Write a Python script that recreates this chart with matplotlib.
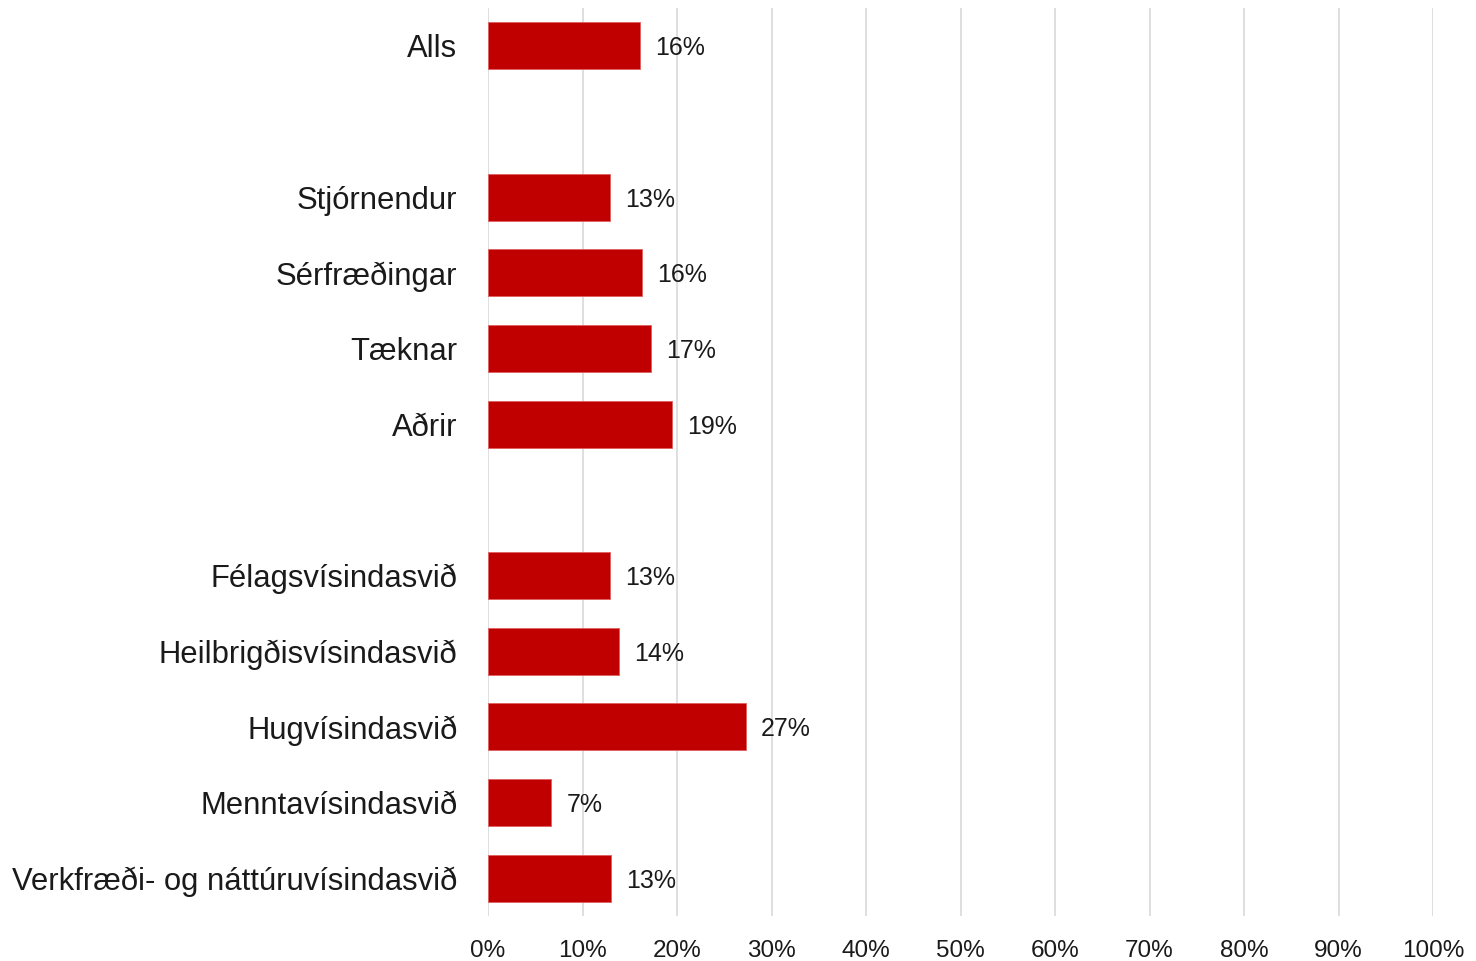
import matplotlib
matplotlib.use("Agg")
import matplotlib.pyplot as plt
from matplotlib import font_manager

names = {f.name for f in font_manager.fontManager.ttflist}
fam = ['Liberation Sans Narrow', 'Liberation Sans', 'DejaVu Sans']
fam = [f for f in fam if f in names] + ['DejaVu Sans']
plt.rcParams['font.family'] = fam

categories = ["Alls", "", "Stjórnendur", "Sérfræðingar", "Tæknar", "Aðrir", "",
              "Félagsvísindasvið", "Heilbrigðisvísindasvið", "Hugvísindasvið",
              "Menntavísindasvið", "Verkfræði- og náttúruvísindasvið"]
values = [16.1, None, 12.9, 16.3, 17.2, 19.5, None, 12.9, 13.9, 27.3, 6.7, 13.0]
labels = ["16%", "", "13%", "16%", "17%", "19%", "", "13%", "14%", "27%", "7%", "13%"]
xticks = list(range(0, 101, 10))
xticklabels = [f"{t}%" for t in xticks]

fig = plt.figure(figsize=(14.76, 9.61), dpi=100)
ax = fig.add_axes([488/1476, 1 - 916/961, (1433-488)/1476, (916-8)/961])

ys = list(range(len(categories)))
for y, v, lab in zip(ys, values, labels):
    if v is None:
        continue
    ax.barh(y, v, height=0.62, color='#C00000', edgecolor='#E06060', linewidth=0.6, zorder=3)
    ax.text(v + 1.6, y, lab, va='center_baseline', ha='left', fontsize=18, color='#1a1a1a')

ax.set_ylim(len(categories) - 0.5, -0.5)
ax.set_xlim(0, 100)
ax.set_yticks(ys)
ax.set_yticklabels(categories, fontsize=22.3, color='#1a1a1a')
ax.set_xticks(xticks)
ax.set_xticklabels(xticklabels, fontsize=17.5, color='#1a1a1a')
ax.tick_params(axis='y', length=0, pad=22)
ax.tick_params(axis='x', length=0, pad=17)
ax.grid(axis='x', color='#D9D9D9', linewidth=1.2, zorder=0)
for s in ax.spines.values():
    s.set_visible(False)

fig.savefig("out.png", dpi=100, facecolor='white')
